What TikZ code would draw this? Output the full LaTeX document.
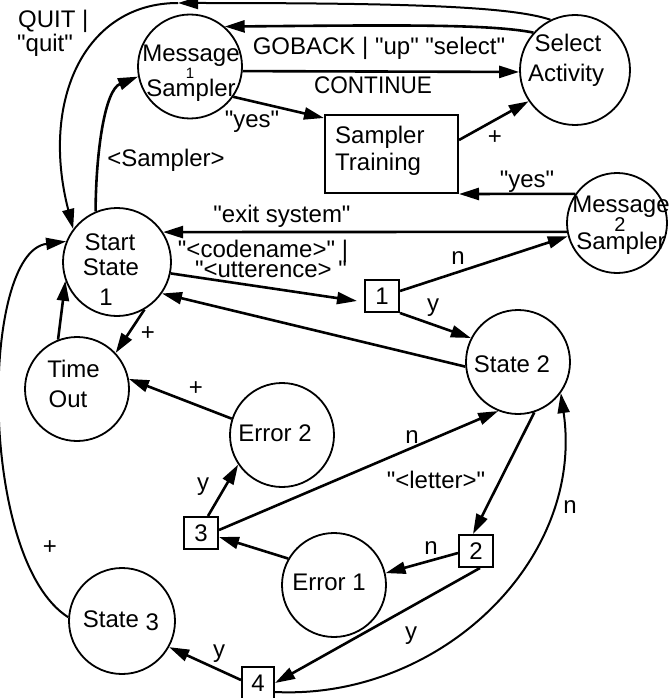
\documentclass[tikz,border=0pt]{standalone}
\usepackage{fontspec}
\setmainfont{Liberation Sans}
\newfontfamily\hfont{Liberation Sans}
\usetikzlibrary{arrows.meta}
\newcommand\dfont{\hfont\fontsize{24}{26}\selectfont}
\newcommand\sfont{\hfont\fontsize{15}{17}\selectfont}
\tikzset{
  st/.style={circle, draw, line width=1.8pt, inner sep=0pt, minimum size=104pt},
  bx/.style={rectangle, draw, line width=2pt, minimum width=34pt, minimum height=32pt, inner sep=0pt, font=\dfont},
  tx/.style={inner sep=0pt, font=\dfont},
  ar/.style={line width=2.6pt, -{Triangle[length=20pt,width=12pt]}},
  arc/.style={line width=2pt, -{Triangle[length=20pt,width=12pt]}}
}
\begin{document}
\begin{tikzpicture}[x=1pt,y=-1pt]
\useasboundingbox (0,0) rectangle (671,698);
% states
\node[st, minimum size=104pt] (m1) at (190,66.5) {};
\node[st, minimum size=110pt] (sa) at (575,70) {};
\node[st, minimum size=100pt] (ms2) at (617,223) {};
\node[st, minimum size=108pt] (ss) at (117,262) {};
\node[st] (to) at (77,389) {};
\node[st] (e2) at (282,435) {};
\node[st] (s2) at (518,362) {};
\node[st] (e1) at (334,585) {};
\node[st, minimum size=106pt] (s3) at (122,621) {};
\node[rectangle, draw, line width=2pt, minimum width=133pt, minimum height=78pt, inner sep=0pt] (st) at (391.5,154) {};
\node[bx] (b1) at (382,296) {1};
\node[bx] (b2) at (476,551) {2};
\node[bx] (b3) at (201,533) {3};
\node[bx, minimum width=32pt] (b4) at (258,683) {4};
% state texts
\node[tx, anchor=base] (m1a) at (191,62) {Message};
\node[tx, anchor=base, font=\sfont] (m1b) at (190,79) {1};
\node[tx, anchor=base] (m1c) at (191,97) {Sampler};
\node[tx, anchor=base] (saa) at (568,52) {Select};
\node[tx, anchor=base] (sab) at (566,82) {Activity};
\node[tx, anchor=base] (ms2a) at (621,212) {Message};
\node[tx, anchor=base, font=\hfont\fontsize{20}{22}\selectfont] (ms2b) at (620,231) {2};
\node[tx, anchor=base] (ms2c) at (621,249) {Sampler};
\node[tx, anchor=base] (ssa) at (110,250) {Start};
\node[tx, anchor=base] (ssb) at (111,275) {State};
\node[tx, anchor=base] (ssc) at (106,305) {1};
\node[tx, anchor=base] (toa) at (73.5,377) {Time};
\node[tx, anchor=base] (tob) at (68,407) {Out};
\node[tx, anchor=base] (e2a) at (275,441) {Error 2};
\node[tx, anchor=base] (s2a) at (512,372) {State 2};
\node[tx, anchor=base] (e1a) at (329,590) {Error 1};
\node[tx, anchor=base] (s3a) at (121,627) {State \raisebox{-3pt}{3}};
\node[tx, anchor=base west] (sta) at (335,143) {Sampler};
\node[tx, anchor=base west] (stb) at (335,170) {Training};
% edge labels
\node[tx, anchor=base west] (l1) at (18,28) {QUIT |};
\node[tx, anchor=base west] (l2) at (17,52) {"quit"};
\node[tx, anchor=base] (l3) at (379,55) {GOBACK | "up" "select"};
\node[tx, anchor=base] (l4) at (373,94) {\addfontfeatures{FakeStretch=0.94}CONTINUE};
\node[tx, anchor=base] (l5) at (252,128) {"yes"};
\node[tx, anchor=base] (l6) at (166,166) {<Sampler>};
\node[tx] (l7) at (495,138) {+};
\node[tx, anchor=base] (l8) at (527,187) {"yes"};
\node[tx, anchor=base] (l9) at (282,222) {"exit system"};
\node[tx, anchor=base] (l10) at (263,257) {"<codename>" |};
\node[tx, anchor=base] (l11) at (271,277) {"<utterence> "};
\node[tx] (l12) at (458,258) {n};
\node[tx] (l13) at (433,308) {y};
\node[tx] (l14) at (148,334) {+};
\node[tx] (l15) at (196,389) {+};
\node[tx] (l16) at (412,437) {n};
\node[tx] (l17) at (436,480) {"<letter>"};
\node[tx] (l18) at (570,507) {n};
\node[tx] (l19) at (431,548) {n};
\node[tx] (l20) at (411,636) {y};
\node[tx] (l21) at (203,487) {y};
\node[tx] (l22) at (50,548) {+};
\node[tx] (l23) at (219,654) {y};
% connectors
\coordinate (q) at (178,3);
\draw[arc] (sa.116) .. controls (510,6) and (400,3) .. (q);
\draw[arc] (q) .. controls (85,3) and (40,100) .. (ss.143);
\draw[ar] (sa.138) .. controls (490,24) and (400,25) .. (m1.49);
\draw[ar] (m1.-5) -- (sa.182);
\draw[ar] (m1.-35) -- ([yshift=-4pt]st.north west);
\draw[ar] ([yshift=14pt]st.east) -- (sa.214);
\draw[ar] (ms2.145) -- (st.south east);
\draw[ar] (ms2.190) -- (ss.33);
\draw[ar] (ss.113) .. controls (96,150) and (105,90) .. (m1.191);
\draw[ar] (ss.-12) -- ([xshift=-7pt,yshift=-5pt]b1.west);
\draw[ar] ([yshift=5pt]b1.east) -- (ms2.195);
\draw[ar] (b1.south east) -- (s2.153);
\draw[ar] (s2.185) -- (ss.-35);
\draw[ar] (ss.-60) -- (to.43);
\draw[ar] (to.111) -- (ss.200);
\draw[ar] (e2.162) -- (to.11);
\draw[ar] ([yshift=3pt]b3.east) -- (s2.248);
\draw[ar] (s2.-72) -- ([xshift=-3pt]b2.north);
\draw[ar] ([xshift=7pt]b3.north) -- (e2.214);
\draw[ar] (e1.150) -- ([yshift=-4pt]b3.east);
\draw[ar] ([yshift=-2pt]b2.west) -- (e1.13);
\draw[ar] ([xshift=4pt]b2.south) -- (b4.east);
\draw[arc] ([yshift=-9pt]b4.east) .. controls (440,700) and (585,560) .. (s2.-36);
\draw[ar] ([yshift=3pt]b4.west) -- (s3.-29);
\draw[arc] (s3.176) .. controls (-22,560) and (-20,252) .. (ss.158);
\end{tikzpicture}
\end{document}
